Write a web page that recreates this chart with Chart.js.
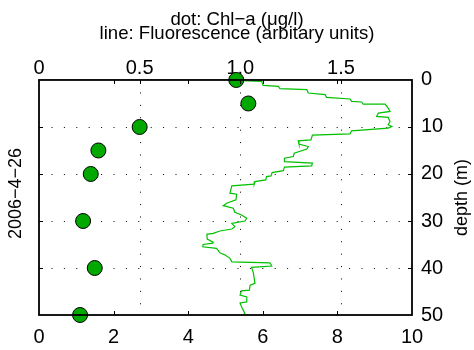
<!DOCTYPE html>
<html>
<head>
<meta charset="utf-8">
<script src="https://cdn.jsdelivr.net/npm/chart.js@4"></script>
<style>
  body { margin: 0; background: #fff; }
  #wrap { width: 474px; height: 350px; }
</style>
</head>
<body>
<div id="wrap"><canvas id="profileChart"></canvas></div>
<script>
// dots: Chl-a samples, read against the top axis
const chlDepth = [0, 5, 10, 15, 20, 30, 40, 50];
const chlValue = [0.98, 1.04, 0.50, 0.295, 0.257, 0.219, 0.277, 0.204];

// line: fluorescence profile, read against the bottom axis
const fluoDepth = [0, 0.15, 0.3, 1.15, 1.36, 1.86, 2.07, 2.77, 3.13, 3.71, 4.05, 4.56, 4.69, 5.12, 5.12, 5.97,
  6.7, 7.04, 7.76, 7.97, 8.83, 9.53, 9.89, 10.23, 10.81, 11.45, 11.73, 12.73, 12.94, 13.65, 14.16, 14.71,
  15.57, 16.29, 16.63, 17.36, 17.7, 18.27, 18.55, 19.28, 19.7, 20.41, 20.55, 21.26, 21.62, 22.17, 22.54,
  24.09, 24.31, 25.52, 26.23, 26.74, 27.29, 28.14, 28.72, 29.42, 30.0, 30.49, 31.22, 31.71, 32.13, 32.62,
  32.84, 33.84, 34.54, 34.7, 35.0, 35.48, 35.82, 36.76, 37.25, 37.95, 38.68, 38.89, 39.59, 39.87, 41.15,
  43.28, 43.65, 44.71, 44.86, 45.78, 46.14, 47.21, 47.42, 48.27, 49.68, 50];
const fluoValue = [5.3, 5.43, 5.97, 6.01, 6.42, 6.46, 7.18, 7.22, 7.67, 7.71, 8.34, 8.38, 8.65, 8.69, 9.28, 9.36,
  9.41, 9.10, 9.05, 9.36, 9.41, 9.36, 9.46, 9.36, 8.38, 8.34, 7.33, 7.29, 6.95, 6.97, 7.22, 7.18,
  6.84, 6.82, 6.58, 6.58, 7.33, 7.31, 6.58, 6.55, 6.25, 6.22, 6.10, 6.08, 5.79, 5.77, 5.17,
  5.12, 5.30, 5.28, 5.03, 4.94, 5.21, 5.25, 5.43, 5.57, 5.52, 5.17, 5.25, 5.17, 4.85, 4.67,
  4.50, 4.51, 4.67, 4.66, 4.40, 4.39, 4.76, 4.85, 4.99, 5.12, 5.17, 6.19, 6.24, 5.70, 5.75,
  5.79, 5.66, 5.64, 5.43, 5.39, 5.57, 5.57, 5.39, 5.43, 5.52, 5.48];

const bottomTicks = [0, 2, 4, 6, 8, 10];
const topTicks = [0, 0.5, 1, 1.5];
const depthTicks = [0, 10, 20, 30, 40, 50];

const titleLines = ['dot: Chl\u2212a (\u03bcg/l)', 'line: Fluorescence (arbitary units)'];
const dateLabel = '2006\u22124\u221226';
const depthLabel = 'depth (m)';

Chart.defaults.font.family = '"Liberation Sans", Arial, sans-serif';
Chart.defaults.color = '#000';

function setTicks(list) {
    return function(scale) {
        scale.ticks = list.map(v => ({ value: v }));
    };
}

const framePlugin = {
    id: 'framePlugin',
    beforeDatasetsDraw(chart) {
        const { ctx, chartArea: a, scales } = chart;
        ctx.save();
        ctx.strokeStyle = '#000';
        ctx.lineWidth = 1;
        ctx.setLineDash([1, 11.4]);
        topTicks.slice(1).forEach(v => {
            const x = Math.round(scales.x2.getPixelForValue(v)) + 0.5;
            ctx.beginPath();
            ctx.moveTo(x, a.top + 12.5);
            ctx.lineTo(x, a.bottom);
            ctx.stroke();
        });
        depthTicks.slice(1, -1).forEach(v => {
            const y = Math.round(scales.y.getPixelForValue(v)) + 0.5;
            ctx.beginPath();
            ctx.moveTo(a.left + 12.5, y);
            ctx.lineTo(a.right, y);
            ctx.stroke();
        });
        ctx.restore();
    },
    afterDatasetsDraw(chart) {
        const { ctx, chartArea: a, scales } = chart;
        ctx.save();
        ctx.strokeStyle = '#000';
        ctx.lineWidth = 1.8;
        ctx.strokeRect(a.left, a.top, a.right - a.left, a.bottom - a.top);

        // inward tick marks
        ctx.lineWidth = 1;
        ctx.beginPath();
        bottomTicks.slice(1, -1).forEach(v => {
            const x = Math.round(scales.x.getPixelForValue(v)) + 0.5;
            ctx.moveTo(x, a.bottom); ctx.lineTo(x, a.bottom - 4);
            ctx.moveTo(x, a.top); ctx.lineTo(x, a.top + 4);
        });
        topTicks.slice(1).forEach(v => {
            const x = Math.round(scales.x2.getPixelForValue(v)) + 0.5;
            ctx.moveTo(x, a.top); ctx.lineTo(x, a.top + 4);
        });
        depthTicks.slice(1, -1).forEach(v => {
            const y = Math.round(scales.y.getPixelForValue(v)) + 0.5;
            ctx.moveTo(a.right, y); ctx.lineTo(a.right - 4, y);
            ctx.moveTo(a.left, y); ctx.lineTo(a.left + 4, y);
        });
        ctx.stroke();
        ctx.restore();
    },
    afterDraw(chart) {
        const { ctx, chartArea: a } = chart;
        const midY = (a.top + a.bottom) / 2;
        ctx.save();
        ctx.fillStyle = '#000';
        ctx.font = '18px "Liberation Sans", Arial, sans-serif';
        ctx.textAlign = 'center';
        ctx.textBaseline = 'middle';

        ctx.save();
        ctx.translate(16, midY - 4);
        ctx.rotate(-Math.PI / 2);
        ctx.fillText(dateLabel, 0, 0);
        ctx.restore();

        ctx.save();
        ctx.translate(462, midY);
        ctx.rotate(-Math.PI / 2);
        ctx.fillText(depthLabel, 0, 0);
        ctx.restore();

        ctx.restore();
    }
};

const ctx = document.getElementById('profileChart').getContext('2d');

new Chart(ctx, {
    type: 'scatter',
    data: {
        datasets: [{
            label: 'Chl-a',
            data: chlDepth.map((d, i) => ({ x: chlValue[i], y: d })),
            xAxisID: 'x2',
            yAxisID: 'y',
            pointRadius: 7.5,
            pointHoverRadius: 7.5,
            backgroundColor: '#00a800',
            borderColor: '#000',
            borderWidth: 1,
            clip: false,
            order: 0
        }, {
            label: 'Fluorescence',
            data: fluoDepth.map((d, i) => ({ x: fluoValue[i], y: d })),
            xAxisID: 'x',
            yAxisID: 'y',
            showLine: true,
            borderColor: '#00c000',
            borderWidth: 1.2,
            pointRadius: 0,
            tension: 0,
            order: 1
        }]
    },
    options: {
        responsive: true,
        maintainAspectRatio: false,
        animation: false,
        devicePixelRatio: 1,
        layout: { padding: 0 },
        plugins: {
            legend: { display: false },
            tooltip: { enabled: false },
            title: {
                display: true,
                text: titleLines,
                color: '#000',
                font: { size: 18.6, weight: 'normal', lineHeight: 0.76 },
                padding: { top: 13, bottom: 0 }
            }
        },
        scales: {
            x: {
                type: 'linear',
                position: 'bottom',
                min: 0,
                max: 10,
                afterBuildTicks: setTicks(bottomTicks),
                afterFit: s => { s.height = 35; },
                grid: { display: false, drawTicks: false },
                border: { display: false },
                ticks: { font: { size: 20 }, padding: 10, maxRotation: 0 }
            },
            x2: {
                type: 'linear',
                position: 'top',
                min: 0,
                max: 1.853,
                afterBuildTicks: setTicks(topTicks),
                afterFit: s => { s.height = 38.7; },
                grid: { display: false, drawTicks: false },
                border: { display: false },
                ticks: { font: { size: 20 }, padding: -1, maxRotation: 0 }
            },
            y: {
                type: 'linear',
                position: 'right',
                reverse: true,
                min: 0,
                max: 50,
                afterBuildTicks: setTicks(depthTicks),
                afterFit: s => { s.width = 62; },
                grid: { display: false, drawTicks: false },
                border: { display: false },
                ticks: { font: { size: 20 }, padding: 9 }
            },
            yL: {
                type: 'linear',
                position: 'left',
                afterFit: s => { s.width = 39; },
                grid: { display: false, drawTicks: false },
                border: { display: false },
                ticks: { display: false }
            }
        }
    },
    plugins: [framePlugin]
});
</script>
</body>
</html>
